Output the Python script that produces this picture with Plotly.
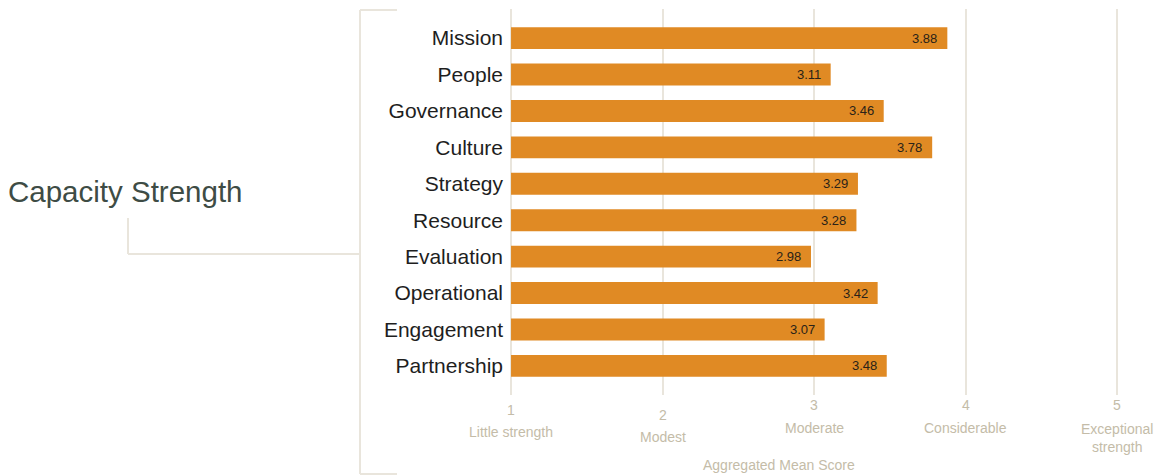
import plotly.graph_objects as go

categories = ["Mission", "People", "Governance", "Culture", "Strategy",
              "Resource", "Evaluation", "Operational", "Engagement", "Partnership"]
scores = [3.88, 3.11, 3.46, 3.78, 3.29, 3.28, 2.98, 3.42, 3.07, 3.48]
tick_values = [1, 2, 3, 4, 5]
tick_numbers = ["1", "2", "3", "4", "5"]
tick_names = ["Little strength", "Modest", "Moderate", "Considerable", "Exceptional<br>strength"]

W, H = 1162, 476
L, R, T, B = 508, 0, 9, 81
x0, x1 = 0.98, 5.297
BAR = "#E08A24"
GRID = "#E9E5DC"
TAN = "#C4BCA8"

def px(x):
    return (x - L) / (W - L - R)

def py(y):
    return (H - B - y) / (H - T - B)

fig = go.Figure()
fig.add_trace(go.Bar(
    y=categories,
    x=[s - 1 for s in scores],
    base=1,
    orientation="h",
    marker=dict(color=BAR, line=dict(width=0)),
    width=0.6,
    hoverinfo="skip",
))

annotations = []
for c, s in zip(categories, scores):
    annotations.append(dict(x=s, y=c, xref="x", yref="y", text=f"{s:.2f}",
                            showarrow=False, xanchor="right", xshift=-8,
                            font=dict(family="Liberation Sans", size=13, color="#2a2218")))

num_y = [410, 415, 405, 405, 405]
name_y = [432, 437, 428, 428, 438]
for v, n, ny in zip(tick_values, tick_numbers, num_y):
    annotations.append(dict(x=v, y=py(ny), xref="x", yref="paper", text=n, showarrow=False,
                            xanchor="center", yanchor="middle",
                            font=dict(family="Liberation Sans", size=14, color=TAN)))
for v, n, namey in zip(tick_values, tick_names, name_y):
    annotations.append(dict(x=v, y=py(namey), xref="x", yref="paper", text=n, showarrow=False,
                            xanchor="center", yanchor="middle",
                            font=dict(family="Liberation Sans", size=14, color=TAN)))
annotations.append(dict(x=px(779), y=py(465), xref="paper", yref="paper",
                        text="Aggregated Mean Score", showarrow=False,
                        xanchor="center", yanchor="middle",
                        font=dict(family="Liberation Sans", size=14, color=TAN)))
annotations.append(dict(x=px(6), y=py(191), xref="paper", yref="paper",
                        text="Capacity Strength", showarrow=False,
                        xanchor="left", yanchor="middle",
                        font=dict(family="Liberation Sans", size=29.5, color="#3E4C45")))

line = dict(color=GRID, width=2)
shapes = [
    dict(type="line", xref="paper", yref="paper", x0=px(360), x1=px(360), y0=py(10), y1=py(474), line=line),
    dict(type="line", xref="paper", yref="paper", x0=px(360), x1=px(397), y0=py(10), y1=py(10), line=line),
    dict(type="line", xref="paper", yref="paper", x0=px(360), x1=px(397), y0=py(474), y1=py(474), line=line),
    dict(type="line", xref="paper", yref="paper", x0=px(128), x1=px(360), y0=py(254), y1=py(254), line=line),
    dict(type="line", xref="paper", yref="paper", x0=px(128), x1=px(128), y0=py(218), y1=py(254), line=line),
]

fig.update_layout(
    width=W, height=H,
    margin=dict(l=L, r=R, t=T, b=B, pad=0),
    paper_bgcolor="white", plot_bgcolor="white",
    showlegend=False,
    bargap=0.4,
    annotations=annotations,
    shapes=shapes,
    xaxis=dict(range=[x0, x1], tickvals=tick_values, showticklabels=False,
               showgrid=True, gridcolor=GRID, gridwidth=2, zeroline=False,
               showline=False, ticks=""),
    yaxis=dict(categoryorder="array", categoryarray=categories, autorange=False,
               range=[9.8, -0.8], showgrid=False, zeroline=False, showline=False,
               ticks="", ticklabelstandoff=4,
               tickfont=dict(family="Liberation Sans", size=21, color="#1E1E1E")),
)

fig.write_html("out.html")
